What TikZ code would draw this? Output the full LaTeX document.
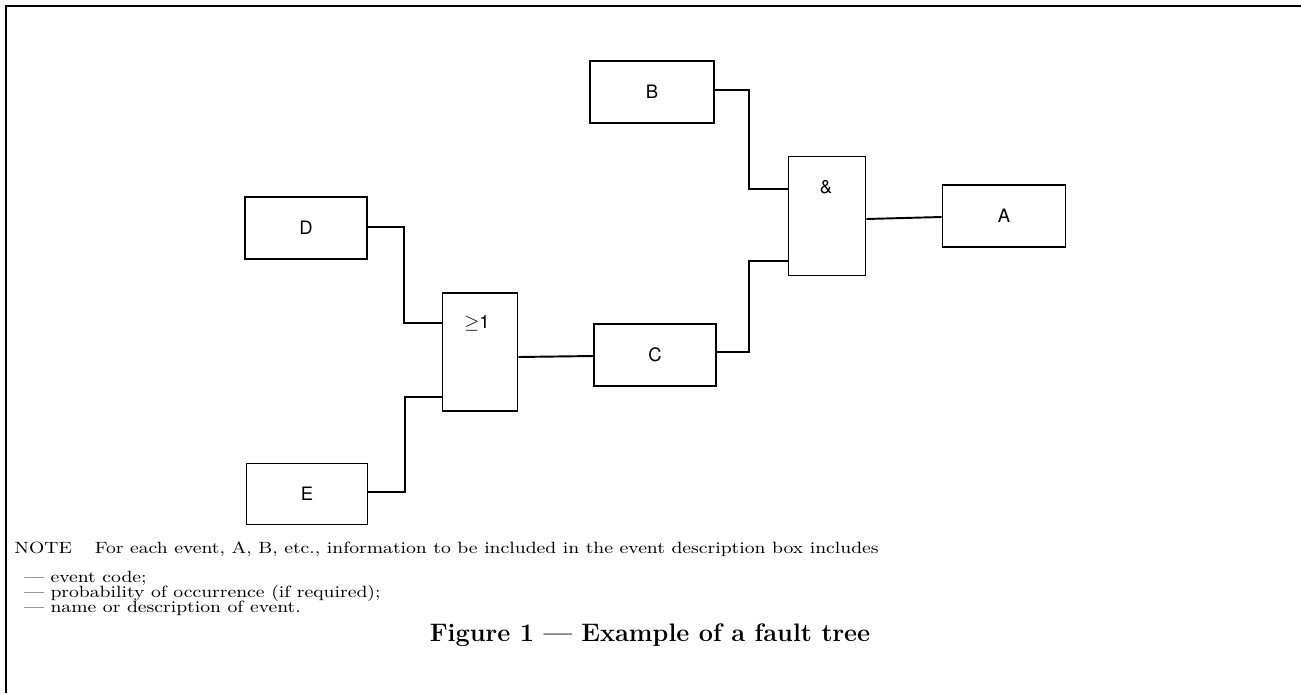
\documentclass[tikz,border=0pt]{standalone}
\usepackage{graphicx}
\usepackage{fontspec}
\newfontfamily\gatefont{TeX Gyre Heros}
\usetikzlibrary{positioning, calc}
\newcommand{\widetext}[1]{\scalebox{1.17}[1]{#1}}

\begin{document}
\begin{tikzpicture}[x=0.02cm, y=-0.02cm,
    eventbox/.style={draw, line width=1.1pt, inner sep=0pt, font=\gatefont\fontsize{10.5}{12}\selectfont},
    gatebox/.style={eventbox, minimum width=76*0.02cm, minimum height=118*0.02cm},
    gatesym/.style={inner sep=0pt, font=\gatefont\fontsize{10.5}{12}\selectfont},
    wire/.style={line width=1.1pt},
    notetext/.style={anchor=base west, inner sep=0pt, font=\fontsize{9.3}{11}\selectfont}]
    \useasboundingbox (0,0) rectangle (1301,693);
    % frame
    \draw[line width=1.3pt] (6,693) -- (6,6) -- (1301,6);
    % events
    \node[eventbox, minimum width=124*0.02cm, minimum height=62*0.02cm] (B) at (652,92) {B};
    \node[eventbox, minimum width=123*0.02cm, minimum height=62*0.02cm] (A) at (1004,216) {A};
    \node[eventbox, minimum width=122*0.02cm, minimum height=62*0.02cm] (C) at (655,355) {C};
    \node[eventbox, minimum width=122*0.02cm, minimum height=62*0.02cm] (D) at (306,228) {D};
    \node[eventbox, minimum width=121*0.02cm, minimum height=61*0.02cm] (E) at (307,494) {E};
    % gates
    \node[gatebox, minimum width=77*0.02cm, minimum height=119*0.02cm] (andg) at (827,216) {};
    \node[gatesym] (andsym) at (826,187) {\&};
    \node[gatebox, minimum width=75*0.02cm] (org) at (480,352) {};
    \node[gatesym] (orsym) at (477,323) {$\geq$1};
    % gate inputs
    \coordinate (and1) at (andg.west |- 0,189);
    \coordinate (and2) at (andg.west |- 0,261);
    \coordinate (or1) at (org.west |- 0,323);
    \coordinate (or2) at (org.west |- 0,397);
    \draw[wire] (B.east |- 0,90) -| (749,189) -- (and1);
    \draw[wire] (C.east |- 0,352) -| (749,261) -- (and2);
    \draw[wire] (andg.east |- 0,219) -- (A.west |- 0,217);
    \draw[wire] (org.east |- 0,357) -- (C.west |- 0,356);
    \draw[wire] (D.east |- 0,227) -| (404,323) -- (or1);
    \draw[wire] (E.east |- 0,492) -| (405,397) -- (or2);
    % note
    \node[notetext] (note) at (14,553) {\widetext{NOTE\hspace{1.2em}For each event, A, B, etc., information to be included in the event description box includes}};
    \node[notetext] (item1) at (24,582) {\widetext{--- event code;}};
    \node[notetext] (item2) at (24,597) {\widetext{--- probability of occurrence (if required);}};
    \node[notetext] (item3) at (24,612) {\widetext{--- name or description of event.}};
    \node[anchor=base, inner sep=0pt, font=\bfseries\fontsize{14.4}{17}\selectfont] (caption) at (650,641) {Figure 1 --- Example of a fault tree};
\end{tikzpicture}
\end{document}
